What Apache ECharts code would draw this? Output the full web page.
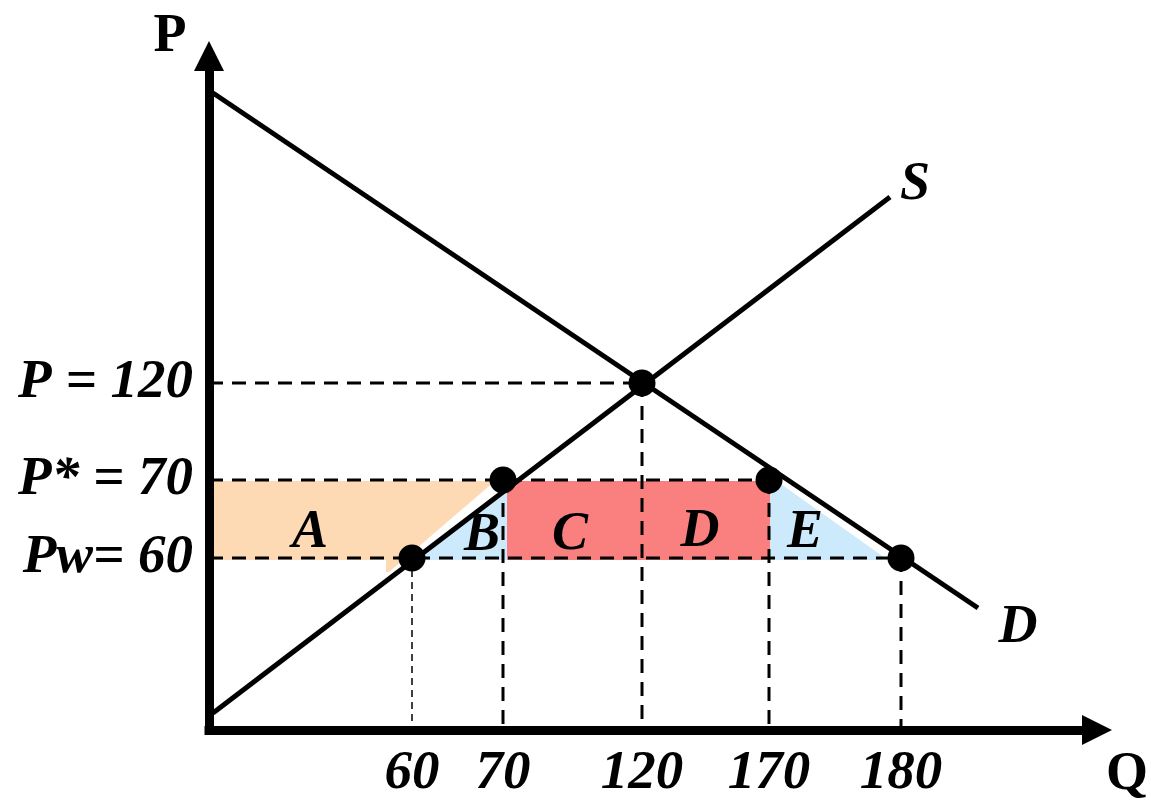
<!DOCTYPE html>
<html>
<head>
<meta charset="utf-8">
<script src="https://cdn.jsdelivr.net/npm/echarts@6/dist/echarts.min.js"></script>
<style>
html, body { margin: 0; padding: 0; background: #fff; }
#main { width: 1151px; height: 805px; }
</style>
</head>
<body>
<div id="main"></div>
<script>
// schematic diagram: axis units are drawing positions, the diagram is not to scale
var qLabels = ['60', '70', '120', '170', '180'];
var qPos = [203, 294, 433, 560, 692];
var pLabels = ['Pw= 60', 'P* = 70', 'P = 120'];
var pPos = [172, 250, 347];

// curves as two end points
var supply = [[4, 17], [681, 533]];
var demand = [[4, 637], [769, 122]];

// marked points: [quantity index, price index]
var dots = [[0, 0], [1, 1], [2, 2], [3, 1], [4, 0]];

// shaded areas (vertices)
var areaA = [[5, 249], [286, 249], [180, 158], [177, 158], [177, 170], [5, 170]];
var areaB = [[201, 170], [298, 238], [298, 170]];
var areaCD = [[298, 249], [561, 249], [561, 170], [298, 170]];
var areaE = [[561, 248], [569, 248], [679, 170], [561, 170]];

// text marks
var areaNames = ['A', 'B', 'C', 'D', 'E'];
var areaNamePos = [[101, 197], [273, 194], [361, 195], [491, 198], [596, 197]];
var curveNames = ['S', 'D'];
var curveNamePos = [[706, 545], [809, 102]];
var axisNames = ['P', 'Q'];
var axisNamePos = [[-39, 693], [918, -45]];

var myChart = echarts.init(document.getElementById('main'));

var serif = 'Liberation Serif';
var areas = [areaA, areaB, areaCD, areaE];
var areaFills = ['#fddab4', '#cceafb', '#fa8080', '#cceafb'];

var dotData = dots.map(function (d) { return [qPos[d[0]], pPos[d[1]]]; });

var dashed = [];
// horizontal guides from the price axis to the farthest point at that price
pPos.forEach(function (p) {
    var far = 0;
    dotData.forEach(function (d) { if (d[1] === p && d[0] > far) far = d[0]; });
    dashed.push({ data: [[0, p], [far, p]], width: 3 });
});
// vertical guides from each point down to the quantity axis
dotData.forEach(function (d, i) {
    dashed.push({ data: [[d[0], d[1]], [d[0], 0]], width: i === 0 ? 1.5 : 3 });
});

var series = [];
areas.forEach(function (a, i) {
    series.push({
        type: 'custom',
        z: 1,
        silent: true,
        clip: false,
        data: [[0, 0]],
        renderItem: function (params, api) {
            return {
                type: 'polygon',
                shape: { points: a.map(function (p) { return api.coord(p); }) },
                style: { fill: areaFills[i] }
            };
        }
    });
});
dashed.forEach(function (d) {
    series.push({
        type: 'line',
        z: 2,
        silent: true,
        symbol: 'none',
        data: d.data,
        lineStyle: { color: '#000', width: d.width, type: d.width < 2 ? [7, 5] : [14, 9] }
    });
});
[supply, demand].forEach(function (c) {
    series.push({
        type: 'line',
        z: 3,
        silent: true,
        symbol: 'none',
        data: c,
        lineStyle: { color: '#000', width: 5 }
    });
});
series.push({
    type: 'scatter',
    z: 4,
    silent: true,
    symbolSize: 27,
    itemStyle: { color: '#000', opacity: 1 },
    data: dotData
});
function textSeries(names, pos, size, italic) {
    return {
        type: 'scatter',
        z: 5,
        silent: true,
        clip: false,
        symbolSize: 0,
        itemStyle: { opacity: 1 },
        data: pos.map(function (p, i) { return { value: p, name: names[i] }; }),
        label: {
            show: true,
            position: 'inside',
            formatter: '{b}',
            color: '#000',
            fontFamily: serif,
            fontWeight: 'bold',
            fontStyle: italic ? 'italic' : 'normal',
            fontSize: size
        }
    };
}
series.push(textSeries(areaNames, areaNamePos, 54, true));
series.push(textSeries(curveNames, curveNamePos, 54, true));
series.push(textSeries(axisNames, axisNamePos, 54, false));

var labelFont = {
    color: '#000',
    fontFamily: serif,
    fontWeight: 'bold',
    fontStyle: 'italic',
    fontSize: 55
};

var axisLine = {
    onZero: false,
    symbol: ['none', 'triangle'],
    symbolSize: [30, 30],
    lineStyle: { color: '#000', width: 9, cap: 'square' }
};

var option = {
    animation: false,
    grid: { left: 209, right: 54, top: 56, bottom: 75, outerBoundsMode: 'none' },
    xAxis: {
        type: 'value',
        min: 0,
        max: 888,
        splitLine: { show: false },
        axisTick: { show: false },
        axisLine: axisLine,
        axisLabel: Object.assign({
            customValues: qPos,
            margin: 16,
            formatter: function (v) { return qLabels[qPos.indexOf(v)]; }
        }, labelFont)
    },
    yAxis: {
        type: 'value',
        min: 0,
        max: 674,
        splitLine: { show: false },
        axisTick: { show: false },
        axisLine: axisLine,
        axisLabel: Object.assign({
            customValues: pPos,
            margin: 16,
            formatter: function (v) { return pLabels[pPos.indexOf(v)]; }
        }, labelFont)
    },
    series: series
};

myChart.setOption(option);
</script>
</body>
</html>
